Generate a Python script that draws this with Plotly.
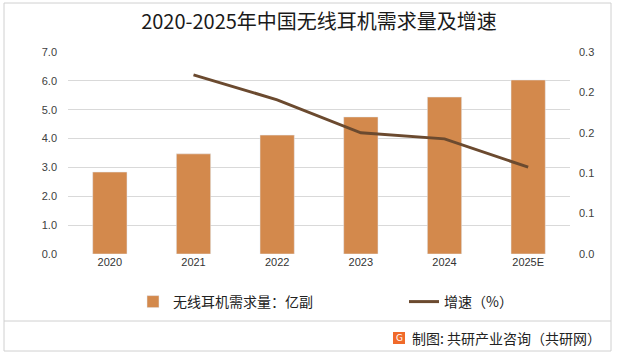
import plotly.graph_objects as go

years = ["2020", "2021", "2022", "2023", "2024", "2025E"]
demand = [2.84, 3.47, 4.12, 4.75, 5.44, 6.03]
growth_years = ["2021", "2022", "2023", "2024", "2025E"]
growth = [0.266, 0.229, 0.180, 0.171, 0.129]

title = "2020-2025年中国无线耳机需求量及增速"
bar_name = "无线耳机需求量：亿副"
line_name = "增速（%）"
source = "制图: 共研产业咨询（共研网）"

W, H = 619, 357
L, R, T, B = 68, 570, 52, 254
pw, ph = R - L, B - T

def px(x):
    return (x - L) / pw

def py(y):
    return (B - y) / ph

CJK = "Noto Sans CJK SC"
NUM = "Liberation Sans, Noto Sans CJK SC"

fig = go.Figure()
fig.add_trace(go.Bar(x=years, y=demand, name=bar_name, marker_color="#D3894C",
                     width=0.41, yaxis="y", legend="legend"))
fig.add_trace(go.Scatter(x=growth_years, y=growth, name=line_name, mode="lines",
                         line=dict(color="#6B4A2F", width=3), yaxis="y2", legend="legend2"))

shapes = [
    dict(type="rect", xref="paper", yref="paper", x0=px(4), x1=px(611), y0=py(351), y1=py(3),
         line=dict(color="#D0D0D0", width=1), layer="below"),
    dict(type="line", xref="paper", yref="paper", x0=px(4), x1=px(611), y0=py(321), y1=py(321),
         line=dict(color="#D0D0D0", width=1)),
    dict(type="rect", xref="paper", yref="paper", x0=px(393), x1=px(405), y0=py(344), y1=py(332),
         line=dict(width=0), fillcolor="#F06A2A"),
]

annotations = [
    dict(text="G", xref="paper", yref="paper", x=px(399), y=py(338), showarrow=False,
         font=dict(family="DejaVu Sans", size=9, color="white"), xanchor="center", yanchor="middle"),
    dict(text=source, xref="paper", yref="paper", x=px(410), y=py(338), showarrow=False,
         font=dict(family=CJK, size=14, color="#222222"), xanchor="left", yanchor="middle"),
]

legend_common = dict(orientation="h", yanchor="middle", borderwidth=0,
                     font=dict(family=CJK, size=14, color="#222222"), bgcolor="rgba(0,0,0,0)")

fig.update_layout(
    width=W, height=H,
    margin=dict(l=L, r=W - R, t=T, b=H - B, autoexpand=False),
    paper_bgcolor="white", plot_bgcolor="white",
    title=dict(text=title, x=0.5, xref="paper", y=1 - 22 / H, yanchor="middle",
               font=dict(family=CJK, size=20, color="#1a1a1a")),
    xaxis=dict(type="category", showgrid=False, showline=False, ticks="",
               tickfont=dict(family=NUM, size=11, color="#333333")),
    yaxis=dict(range=[0, 7], dtick=1, tickformat=".1f", showgrid=True, gridcolor="#D9D9D9",
               gridwidth=1, zeroline=False, showline=False,
               tickfont=dict(family=NUM, size=11, color="#404040"), ticklabelstandoff=10),
    yaxis2=dict(range=[0, 0.3], dtick=0.06, tickformat=".1f", overlaying="y", side="right",
                showgrid=False, zeroline=False, showline=False,
                tickfont=dict(family=NUM, size=11, color="#404040"), ticklabelstandoff=8),
    legend=dict(x=px(133), y=py(302), xanchor="left", **legend_common),
    legend2=dict(x=px(404), y=py(302), xanchor="left", **legend_common),
    shapes=shapes,
    annotations=annotations,
    showlegend=True,
)

fig.write_html("out.html", config={"displayModeBar": False},
               post_script="document.body.style.margin='0';document.body.style.padding='0';")
